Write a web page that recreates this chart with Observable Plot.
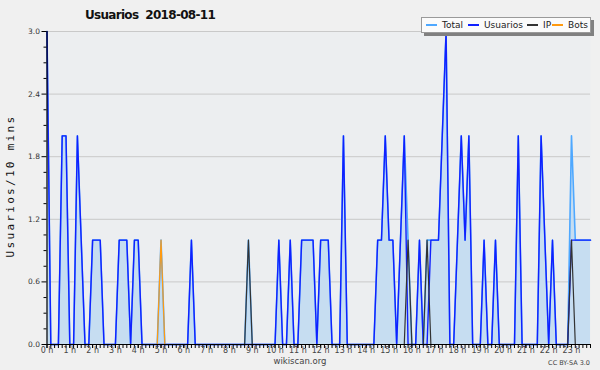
<!DOCTYPE html>
<html>
<head>
<meta charset="utf-8">
<script src="https://cdn.jsdelivr.net/npm/d3@7"></script>
<script src="https://cdn.jsdelivr.net/npm/@observablehq/plot@0.6"></script>
<style>
  html, body { margin: 0; padding: 0; background: #f0f0f0; }
  #wrap { position: relative; width: 600px; height: 370px; overflow: hidden;
          font-family: "DejaVu Sans", sans-serif; color: #222; }
  #wrap svg { position: absolute; left: 0; top: 0; }
  .title { position: absolute; left: 85px; top: 8px; font-weight: bold; font-size: 12px;
           letter-spacing: -0.7px; white-space: pre; color: #111; }
  .ylabel { position: absolute; left: 10px; top: 186px; transform: translate(-50%, -50%) rotate(-90deg);
            font-family: "DejaVu Sans Mono", monospace; font-size: 11px; white-space: nowrap; color: #111; letter-spacing: 2.3px; }
  .legend { position: absolute; left: 421px; top: 17px; width: 168px; height: 14px; background: #fbfbfb;
            border: 1px solid #9a9a9a; box-shadow: 3px 3px 0 #808080; font-size: 9px; line-height: 14px;
            white-space: nowrap; color: #222; }
  .legend span.item { position: absolute; top: 0; padding-left: 16px; }
  .legend i { position: absolute; left: 0; top: 6px; width: 11px; height: 2px; }
  .footer { position: absolute; left: 0; width: 600px; top: 356px; text-align: center; font-size: 8.5px; color: #444; }
  .cc { position: absolute; right: 10px; top: 359px; font-size: 6.5px; color: #444; }
</style>
</head>
<body>
<div id="wrap"></div>
<script>
// ---- data (one value per 10-minute slot, 144 slots) ----
const title = "Usuarios  2018-08-11";
const yLabel = "Usuarios/10 mins";
const seriesNames = ["Total", "Usuarios", "IP", "Bots"];
const seriesColors = ["#4ea8ff", "#1020ff", "#333333", "#ff9a10"];
const hourLabels = ["0 h","1 h","2 h","3 h","4 h","5 h","6 h","7 h","8 h","9 h","10 h","11 h",
                    "12 h","13 h","14 h","15 h","16 h","17 h","18 h","19 h","20 h","21 h","22 h","23 h"];
const yTicks = [0, 0.6, 1.2, 1.8, 2.4, 3.0];
const yMinorTicks = [0.15, 0.3, 0.45, 0.75, 0.9, 1.05, 1.35, 1.5, 1.65, 1.95, 2.1, 2.25, 2.55, 2.7, 2.85];

const usuarios = [
  3,0,0,0,2,2, 0,0,2,1,0,0,   // 0h-2h
  1,1,1,0,0,0, 0,1,1,1,0,1,   // 2h-4h
  1,0,0,0,0,0, 0,0,0,0,0,0,   // 4h-6h
  0,0,1,0,0,0, 0,0,0,0,0,0,   // 6h-8h
  0,0,0,0,0,0, 0,0,0,0,0,0,   // 8h-10h
  0,1,0,0,1,0, 0,1,1,1,1,0,   // 10h-12h
  1,1,1,0,0,0, 2,0,0,0,0,0,   // 12h-14h
  0,0,0,1,1,2, 1,1,0,1,2,0,   // 14h-16h
  0,0,1,0,0,1, 1,1,2,3,0,0,   // 16h-18h
  1,2,1,2,0,0, 0,1,0,0,1,0,   // 18h-20h
  0,0,0,0,2,0, 0,0,0,0,2,1,   // 20h-22h
  0,1,0,0,0,0, 1,1,1,1,1,1    // 22h-24h
];
const ip = [
  0,0,0,0,0,0, 0,0,0,0,0,0,
  0,0,0,0,0,0, 0,0,0,0,0,0,
  0,0,0,0,0,0, 0,0,0,0,0,0,
  0,0,0,0,0,0, 0,0,0,0,0,0,
  0,0,0,0,0,1, 0,0,0,0,0,0,
  0,0,0,0,0,0, 0,0,0,0,0,0,
  0,0,0,0,0,0, 0,0,0,0,0,0,
  0,0,0,0,0,0, 0,0,0,0,0,1,
  0,0,0,0,1,0, 0,0,0,0,0,0,
  0,0,0,0,0,0, 0,0,0,0,0,0,
  0,0,0,0,0,0, 0,0,0,0,0,0,
  0,0,0,0,0,0, 1,0,0,0,0,0
];
const bots = [
  0,0,0,0,0,0, 0,0,0,0,0,0,
  0,0,0,0,0,0, 0,0,0,0,0,0,
  0,0,0,0,0,0, 1,0,0,0,0,0,
  0,0,0,0,0,0, 0,0,0,0,0,0,
  0,0,0,0,0,0, 0,0,0,0,0,0,
  0,0,0,0,0,0, 0,0,0,0,0,0,
  0,0,0,0,0,0, 0,0,0,0,0,0,
  0,0,0,0,0,0, 0,0,0,0,0,0,
  0,0,0,0,0,0, 0,0,0,0,0,0,
  0,0,0,0,0,0, 0,0,0,0,0,0,
  0,0,0,0,0,0, 0,0,0,0,0,0,
  0,0,0,0,0,0, 0,0,0,0,0,0
];

// ---- build table ----
const rows = usuarios.map((u, i) => ({
  slot: i, usuarios: u, ip: ip[i], bots: bots[i], total: u + ip[i] + bots[i]
}));
const hourSlots = hourLabels.map((_, h) => h * 6);
const minorSlots = rows.map(r => r.slot);

const chart = Plot.plot({
  width: 600, height: 370,
  marginLeft: 46.5, marginRight: 10, marginTop: 31, marginBottom: 26,
  x: { domain: [0, rows.length - 1], axis: null },
  y: { domain: [0, 3], axis: null },
  style: { background: "transparent", fontFamily: "DejaVu Sans", fontSize: "8px", color: "#333" },
  marks: [
    Plot.frame({ fill: "#eceef0", stroke: null }),
    Plot.gridY(yTicks, { stroke: "#c9c9c9", strokeOpacity: 1, strokeWidth: 1 }),
    Plot.areaY(rows, { x: "slot", y: "total", fill: "#c6ddf1" }),
    Plot.lineY(rows, { x: "slot", y: "total", stroke: seriesColors[0], strokeWidth: 1.6 }),
    Plot.lineY(rows, { x: "slot", y: "usuarios", stroke: seriesColors[1], strokeWidth: 1.4 }),
    Plot.lineY(rows, { x: "slot", y: "ip", stroke: seriesColors[2], strokeWidth: 1.2 }),
    Plot.lineY(rows, { x: "slot", y: "bots", stroke: seriesColors[3], strokeWidth: 1.2 }),
    Plot.axisY(yTicks, { tickSize: 5, tickPadding: 2, tickFormat: d => d.toFixed(1), fontSize: 7.5, stroke: "#000", color: "#333", label: null }),
    Plot.axisY(yMinorTicks, { tickSize: 3, tickFormat: () => "", stroke: "#000", label: null }),
    Plot.axisX(minorSlots, { tickSize: 4, tickFormat: () => "", stroke: "#000", label: null }),
    Plot.axisX(hourSlots, { tickSize: 4, tickPadding: -1, tickFormat: d => hourLabels[Math.round(d / 6)], fontSize: 8, stroke: "#000", color: "#444", label: null }),
    Plot.ruleY([0], { stroke: "#000", strokeWidth: 1.2 }),
    Plot.ruleX([0], { stroke: "#000", strokeWidth: 1.2 })
  ]
});

const wrap = document.getElementById("wrap");
wrap.appendChild(chart);

const t = document.createElement("div");
t.className = "title"; t.textContent = title; wrap.appendChild(t);

const yl = document.createElement("div");
yl.className = "ylabel"; yl.textContent = yLabel; wrap.appendChild(yl);

const lg = document.createElement("div");
lg.className = "legend";
const legendOffsets = [4, 46, 105, 130];
seriesNames.forEach((name, k) => {
  const s = document.createElement("span");
  s.className = "item";
  s.style.left = legendOffsets[k] + "px";
  const sw = document.createElement("i");
  sw.style.backgroundColor = seriesColors[k];
  s.appendChild(sw);
  s.appendChild(document.createTextNode(name));
  lg.appendChild(s);
});
wrap.appendChild(lg);

const f = document.createElement("div");
f.className = "footer"; f.textContent = "wikiscan.org"; wrap.appendChild(f);
const cc = document.createElement("div");
cc.className = "cc"; cc.textContent = "CC BY-SA 3.0"; wrap.appendChild(cc);
</script>
</body>
</html>
